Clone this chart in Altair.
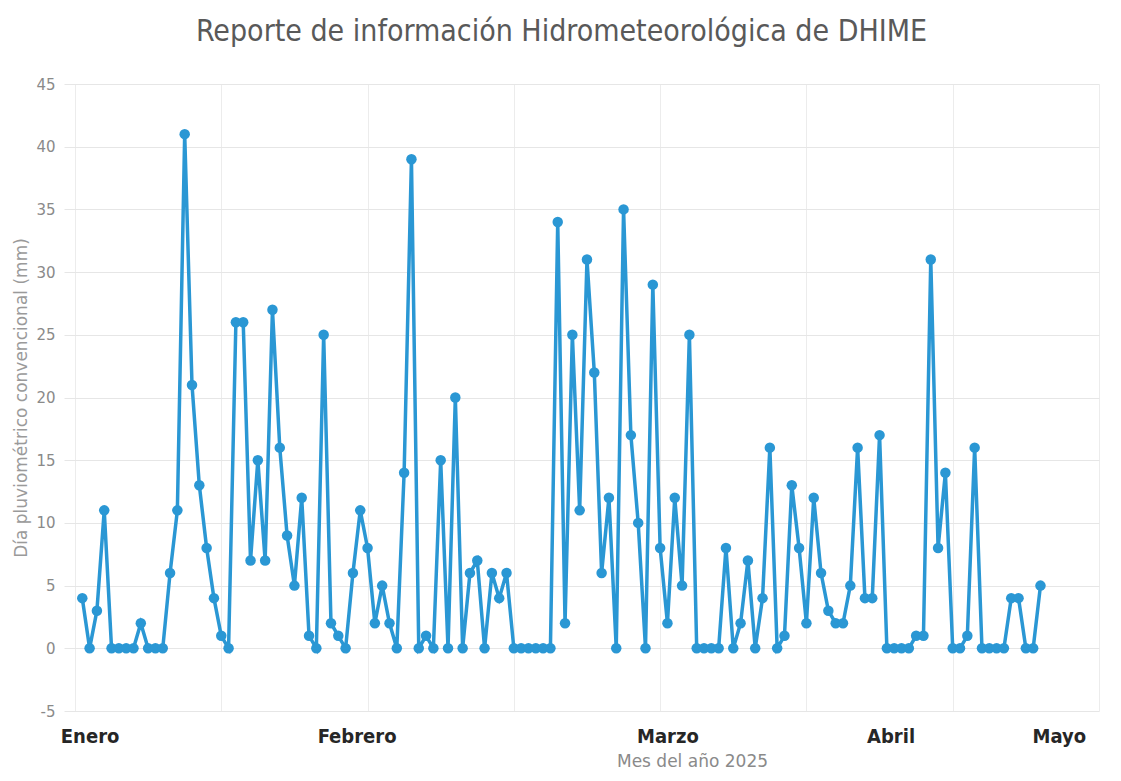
import altair as alt
import pandas as pd

# Daily precipitation (mm), in order
precip = [
    4, 0, 3, 11, 0, 0, 0, 0, 2, 0, 0, 0, 6, 11, 41, 21, 13, 8, 4, 1,
    0, 26, 26, 7, 15, 7, 27, 16, 9, 5, 12, 1, 0, 25, 2, 1, 0, 6, 11, 8,
    2, 5, 2, 0, 14, 39, 0, 1, 0, 15, 0, 20, 0, 6, 7, 0, 6, 4, 6, 0,
    0, 0, 0, 0, 0, 34, 2, 25, 11, 31, 22, 6, 12, 0, 35, 17, 10, 0, 29, 8,
    2, 12, 5, 25, 0, 0, 0, 0, 8, 0, 2, 7, 0, 4, 16, 0, 1, 13, 8, 2,
    12, 6, 3, 2, 2, 5, 16, 4, 4, 17, 0, 0, 0, 0, 1, 1, 31, 8, 14, 0,
    0, 1, 16, 0, 0, 0, 0, 4, 4, 0, 0, 5,
]
days = list(range(1, len(precip) + 1))

# Month labels and where they sit on the day axis
month_names = ["Enero", "Febrero", "Marzo", "Abril", "Mayo"]
month_pos = [2, 38.5, 81, 111.5, 134.5]

# Vertical gridlines (every 20 days) and y ticks
grid_days = [0, 20, 40, 60, 80, 100, 120, 140]
y_ticks = [-5, 0, 5, 10, 15, 20, 25, 30, 35, 40, 45]

df = pd.DataFrame({"dia": days, "mm": precip})

label_expr = " : ".join(
    f"datum.value == {p} ? '{n}'" for p, n in zip(month_pos, month_names)
) + " : ''"

BLUE = "#2a97d4"
NARROW = "DejaVu Sans Condensed, Roboto, sans-serif"
REG = "DejaVu Sans, Noto Sans, sans-serif"

x_scale = alt.Scale(domain=[-1.5, 140], nice=False, zero=False)
y_scale = alt.Scale(domain=[-5, 45], nice=False, zero=False)

y_enc = alt.Y(
    "mm:Q",
    scale=y_scale,
    axis=alt.Axis(
        values=y_ticks,
        labelExpr="datum.value + ''",
        title="Día pluviométrico convencional (mm)",
        titleFont=REG,
        titleFontSize=17,
        titleFontWeight="normal",
        titleColor="#9a9a9a",
        titlePadding=5,
        labelFont=REG,
        labelFontSize=15,
        labelColor="#8a8a8a",
        labelPadding=9,
        domain=False,
        ticks=False,
        grid=True,
        gridColor="#e6e6e6",
        gridWidth=1,
    ),
)

grid_layer = alt.Chart(df).mark_point(opacity=0).encode(
    x=alt.X(
        "dia:Q",
        scale=x_scale,
        axis=alt.Axis(
            orient="bottom",
            values=grid_days,
            labels=False,
            ticks=False,
            domain=False,
            title=None,
            grid=True,
            gridColor="#ececec",
            gridWidth=1,
        ),
    ),
    y=y_enc,
)

line_layer = alt.Chart(df).mark_line(
    color=BLUE,
    strokeWidth=3.5,
    point=alt.OverlayMarkDef(filled=True, size=110, color=BLUE, opacity=1),
).encode(
    x=alt.X(
        "dia:Q",
        scale=x_scale,
        axis=alt.Axis(
            orient="bottom",
            values=month_pos,
            labelExpr=label_expr,
            labelFont=NARROW,
            labelFontSize=20,
            labelFontWeight="bold",
            labelColor="#262626",
            labelPadding=15,
            labelBaseline="top",
            labelFlush=False,
            labelOverlap=False,
            grid=False,
            ticks=False,
            domain=False,
            title="Mes del año 2025",
            titleFont=REG,
            titleFontSize=17,
            titleFontWeight="normal",
            titleColor="#8a8a8a",
            titleX=628,
            titleY=42,
            titleAlign="center",
            titleBaseline="top",
        ),
    ),
    y=y_enc,
)

chart = (
    alt.layer(grid_layer, line_layer)
    .resolve_axis(x="independent")
    .properties(
        width=1035,
        height=627,
        autosize=alt.AutoSizeParams(type="none"),
        padding={"left": 56, "top": 76, "right": 6, "bottom": 60},
        background="white",
        title=alt.TitleParams(
            "Reporte de información Hidrometeorológica de DHIME",
            font=NARROW,
            fontSize=30,
            fontWeight="normal",
            color="#595959",
            anchor="middle",
            offset=30,
            dx=-20,
        ),
    )
    .configure_view(stroke=None)
)

chart.save("out.html", embed_options={"renderer": "svg", "actions": False})
